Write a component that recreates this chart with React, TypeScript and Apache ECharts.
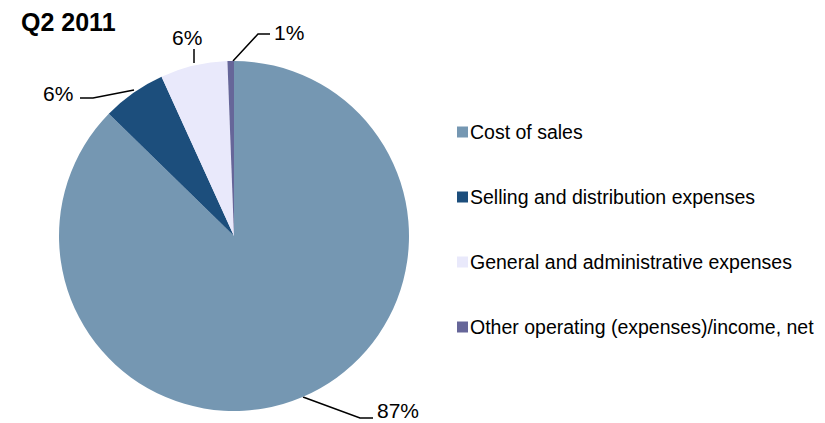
import React, { useEffect, useRef } from "react";
import * as echarts from "echarts";

const categories = [
  "Cost of sales",
  "Selling and distribution expenses",
  "General and administrative expenses",
  "Other operating (expenses)/income, net",
];
const values = [87.4, 5.9, 6.2, 0.6];
const colors = ["#7597B2", "#1C4E7C", "#E9E9FB", "#666699"];
const title = "Q2 2011";

// label placement (text anchor + leader line points), per slice
const labelPos = [
  { x: 377, y: 410, line: [[303, 397], [360, 418], [373, 418]] },
  { x: 43, y: 93, line: [[134, 90], [93, 98], [80, 98]] },
  { x: 172, y: 37, line: [[194, 63], [194, 56], [194, 49]] },
  { x: 274, y: 32, line: [[233, 61], [258, 34], [270, 34]] },
];

export default function App() {
  const ref = useRef<HTMLDivElement>(null);
  useEffect(() => {
    const chart = echarts.init(ref.current!, null, { renderer: "svg" });
    chart.setOption({
      animation: false,
      backgroundColor: "#ffffff",
      title: {
        text: title,
        left: 16,
        top: 4,
        textStyle: {
          fontFamily: "Liberation Sans, Arial",
          fontWeight: "bold",
          fontSize: 25,
          color: "#000",
        },
      },
      legend: {
        orient: "vertical",
        left: 452,
        top: 117,
        itemWidth: 11,
        itemHeight: 11,
        itemGap: 45,
        icon: "rect",
        data: categories,
        textStyle: {
          fontFamily: "Liberation Sans, Arial",
          fontSize: 19.5,
          lineHeight: 20,
          color: "#000",
          padding: [0, 0, 0, -3],
        },
      },
      series: [
        {
          type: "pie",
          center: [234, 236],
          radius: 175,
          startAngle: 90,
          clockwise: true,
          data: categories.map((c, i) => ({
            name: c,
            value: values[i],
            itemStyle: { color: colors[i] },
          })),
          label: {
            show: true,
            position: "outside",
            formatter: (p: any) => Math.round(p.percent) + "%",
            fontFamily: "Liberation Sans, Arial",
            fontSize: 21,
            color: "#000",
          },
          labelLine: {
            show: true,
            lineStyle: { color: "#000", width: 1.5 },
          },
          labelLayout: (p: any) => {
            const l = labelPos[p.dataIndex];
            return {
              x: l.x,
              y: l.y,
              align: "left",
              verticalAlign: "middle",
              labelLinePoints: l.line,
            };
          },
          emphasis: { disabled: true },
        },
      ],
    });
    return () => chart.dispose();
  }, []);
  return (
    <div
      ref={ref}
      style={{ position: "absolute", left: 0, top: 0, width: 825, height: 423 }}
    />
  );
}
